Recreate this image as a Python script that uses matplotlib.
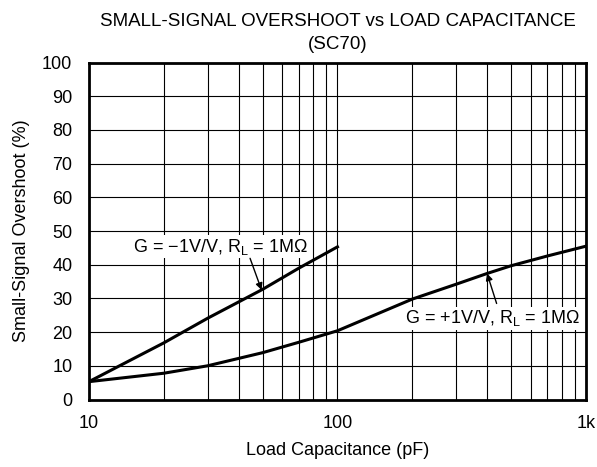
import matplotlib.pyplot as plt
from matplotlib.ticker import FixedLocator, NullFormatter

plt.rcParams['font.family'] = ['Liberation Sans', 'DejaVu Sans']
plt.rcParams['mathtext.fontset'] = 'custom'
plt.rcParams['mathtext.rm'] = 'Liberation Sans'

# Datos
cap_inv = [10, 20, 30, 50, 70, 100]
over_inv = [5.3, 16.8, 24.1, 32.7, 39, 45.3]

cap_noinv = [10, 20, 30, 50, 70, 100, 150, 200, 300, 400, 500, 700, 1000]
over_noinv = [5.3, 7.8, 10.0, 13.9, 17.0, 20.4, 25.9, 29.8, 34.2, 37.4, 39.7, 42.6, 45.5]

xticks = [10, 100, 1000]
xtick_labels = ['10', '100', '1k']
yticks = list(range(0, 101, 10))

fig = plt.figure(figsize=(5.97, 4.67), dpi=100)
ax = fig.add_axes([0.149, 0.1445, 0.8325, 0.7216])

ax.plot(cap_inv, over_inv, color='black', lw=2.2)
ax.plot(cap_noinv, over_noinv, color='black', lw=2.2)

ax.set_xscale('log')
ax.set_xlim(10, 1000)
ax.set_ylim(0, 100)
ax.xaxis.set_major_locator(FixedLocator(xticks))
ax.set_xticklabels(xtick_labels)
minors = [m * d for d in (10, 100) for m in range(2, 10)]
ax.xaxis.set_minor_locator(FixedLocator(minors))
ax.xaxis.set_minor_formatter(NullFormatter())
ax.set_yticks(yticks)

ax.grid(True, which='both', color='black', lw=0.8)
ax.tick_params(which='both', length=0, labelsize=13)
ax.tick_params(axis='x', pad=11)
ax.tick_params(axis='y', pad=12)
for s in ax.spines.values():
    s.set_linewidth(2)

ax.set_xlabel('Load Capacitance (pF)', fontsize=13, labelpad=7)
ax.set_ylabel('Small-Signal Overshoot (%)', fontsize=13, labelpad=9)
ax.set_title('SMALL-SIGNAL OVERSHOOT vs LOAD CAPACITANCE\n(SC70)', fontsize=13.5,
             pad=10, linespacing=1.45)

bbox = dict(facecolor='white', edgecolor='none', pad=1)
ax.text(33.7, 45.3, 'G = \u22121V/V, R$_\\mathregular{L}$ = 1M\u03a9', fontsize=13,
        ha='center', va='center', bbox=bbox)
ax.annotate('', xy=(49.5, 32.5), xytext=(44.5, 41.9),
            arrowprops=dict(arrowstyle='-|>', color='black', lw=1, shrinkA=0, shrinkB=0))
ax.text(420, 24.1, 'G = +1V/V, R$_\\mathregular{L}$ = 1M\u03a9', fontsize=13,
        ha='center', va='center', bbox=bbox)
ax.annotate('', xy=(400, 37.4), xytext=(437, 28.5),
            arrowprops=dict(arrowstyle='-|>', color='black', lw=1, shrinkA=0, shrinkB=0))

fig.savefig('out.png', dpi=100)
